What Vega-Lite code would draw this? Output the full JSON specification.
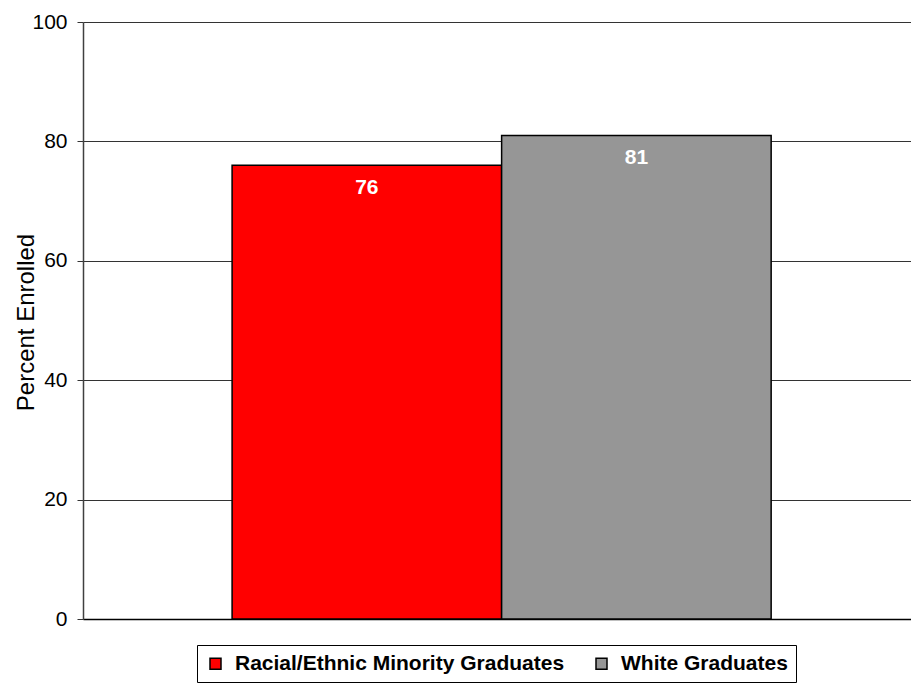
{
  "$schema": "https://vega.github.io/schema/vega-lite/v6.json",
  "width": 828,
  "height": 597,
  "autosize": {"type": "none"},
  "padding": {"left": 83, "top": 22, "right": 0, "bottom": 64},
  "background": "white",
  "config": {
    "view": {"stroke": null},
    "font": "Liberation Sans"
  },
  "data": {
    "values": [
      {"group": "Racial/Ethnic Minority Graduates", "percent": 76},
      {"group": "White Graduates", "percent": 81}
    ]
  },
  "encoding": {
    "x": {
      "field": "group",
      "type": "nominal",
      "sort": null,
      "scale": {"paddingInner": 0, "paddingOuter": 0.536, "align": 0.516},
      "axis": {"labels": false, "ticks": false, "title": null, "domain": true, "domainColor": "#000000", "domainWidth": 1.5}
    },
    "y": {
      "field": "percent",
      "type": "quantitative",
      "scale": {"domain": [0, 100], "nice": false, "zero": true},
      "axis": {
        "title": "Percent Enrolled",
        "values": [0, 20, 40, 60, 80, 100],
        "titleFont": "Liberation Sans",
        "titleFontSize": 24,
        "titleFontWeight": "normal",
        "titleColor": "#000000",
        "titleX": -50,
        "titleY": 300,
        "titleBaseline": "alphabetic",
        "titleAngle": -90,
        "labelFont": "Liberation Sans",
        "labelFontSize": 21,
        "labelColor": "#000000",
        "labelPadding": 10,
        "tickSize": 6,
        "tickColor": "#333333",
        "tickWidth": 1,
        "domainColor": "#404040",
        "domainWidth": 1.5,
        "grid": true,
        "gridColor": "#333333",
        "gridWidth": 1
      }
    }
  },
  "layer": [
    {
      "mark": {"type": "bar", "stroke": "#000000", "strokeWidth": 1.5},
      "encoding": {
        "color": {
          "field": "group",
          "type": "nominal",
          "sort": null,
          "scale": {
            "domain": ["Racial/Ethnic Minority Graduates", "White Graduates"],
            "range": ["#FF0000", "#969696"]
          },
          "legend": {
            "title": null,
            "orient": "none",
            "direction": "horizontal",
            "legendX": 114,
            "legendY": 623,
            "strokeColor": "#000000",
            "padding": 8,
            "columnPadding": 26,
            "symbolType": "square",
            "symbolSize": 121,
            "symbolStrokeColor": "#000000",
            "symbolStrokeWidth": 1.5,
            "symbolOpacity": 1,
            "labelFont": "Liberation Sans",
            "labelFontSize": 21,
            "labelFontWeight": "bold",
            "labelColor": "#000000",
            "labelOffset": 9,
            "labelLimit": 500
          }
        }
      }
    },
    {
      "mark": {"type": "text", "baseline": "top", "dy": 12, "color": "#FFFFFF", "fontSize": 21, "fontWeight": "bold", "font": "Liberation Sans"},
      "encoding": {
        "text": {"field": "percent", "type": "quantitative"}
      }
    }
  ]
}
